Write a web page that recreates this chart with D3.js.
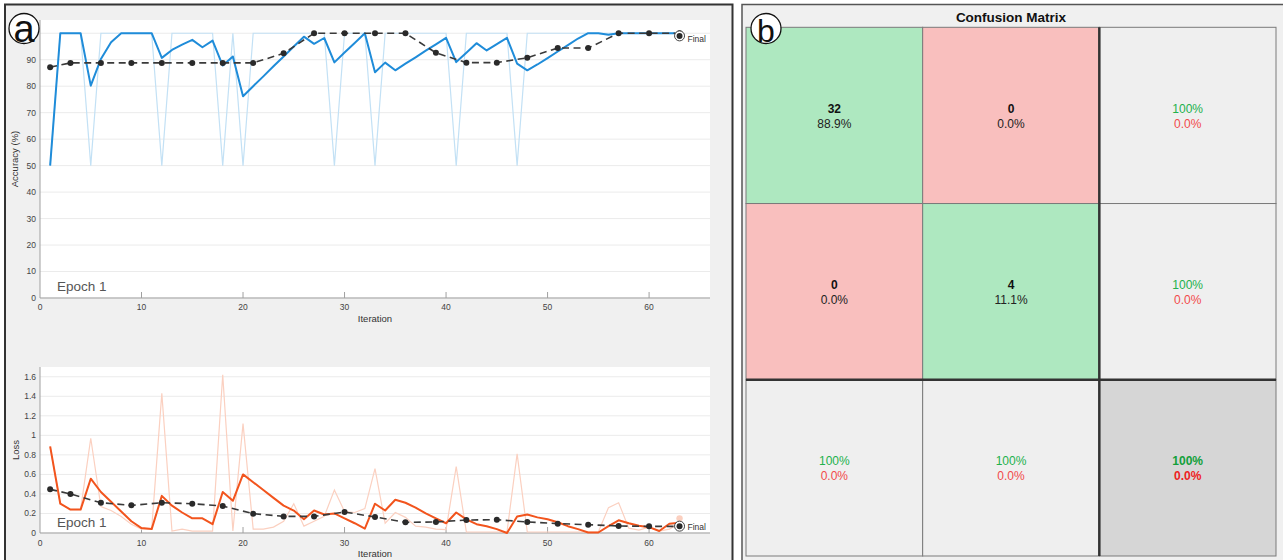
<!DOCTYPE html>
<html><head><meta charset="utf-8">
<script src="https://cdn.jsdelivr.net/npm/d3@7"></script>
<style>
body{margin:0;background:#fff}
svg{display:block}
text{font-family:"Liberation Sans",Arial,Helvetica,sans-serif}
</style></head>
<body><svg id="c" width="1283" height="560"></svg>
<script>
// ---------- data ----------
const iterations = d3.range(1, 64);
const accRaw = [50,100,100,100,50,100,100,100,100,100,100,50,100,100,100,100,100,50,100,50,
  100,100,100,100,100,100,100,100,50,100,100,100,50,100,100,100,100,100,100,100,
  50,100,100,100,100,100,50,100,100,100,100,100,100,100,100,100,100,100,100,100,100,100,100];
const accSmooth = [50,100,100,100,80.2,90.3,96.6,100,100,100,100,90.7,93.7,95.7,97.5,94.7,97.2,87.8,91.2,76.2,
  80,83.7,87.5,91.2,95,98.7,96,98.2,89,92.7,96.3,100,85.3,88.9,86,88.5,90.9,93.4,95.8,98.25,
  89.1,92.6,96.25,93.5,95.9,98.25,88.5,86,88.2,90.6,93.1,95.5,98,100,100,99.4,100,100,100,100,100,100,100];
const valIter = [1,3,6,9,12,15,18,21,24,27,30,33,36,39,42,45,48,51,54,57,60,63];
const accVal = [87.2,88.8,88.8,88.8,88.8,88.8,88.8,88.8,92.4,100,100,100,100,92.6,88.9,88.9,90.75,94.4,94.4,100,100,100];
const accFinal = 99;

const lossRaw = [0.88,0.30,0.24,0.24,0.97,0.27,0.23,0.17,0.09,0.04,0.04,1.43,0.02,0.04,0.02,0.02,0.02,1.62,0.02,1.12,
  0.04,0.04,0.06,0.12,0.30,0.07,0.12,0.17,0.44,0.22,0.21,0.25,0.66,0.10,0.21,0.16,0.07,0.06,0.04,0.035,
  0.68,0.01,0.01,0.01,0.01,0.01,0.81,0.01,0.01,0.01,0.01,0.01,0.01,0.01,0.01,0.26,0.31,0.05,0.03,0.06,0.02,0.04,0.10];
const lossSmooth = [0.887,0.30,0.24,0.24,0.556,0.42,0.32,0.22,0.12,0.05,0.04,0.38,0.28,0.21,0.15,0.15,0.09,0.42,0.33,0.60,
  0.52,0.44,0.36,0.28,0.23,0.14,0.23,0.19,0.20,0.15,0.10,0.045,0.30,0.23,0.34,0.31,0.26,0.20,0.15,0.10,
  0.21,0.14,0.09,0.07,0.04,0.0,0.17,0.19,0.16,0.14,0.11,0.07,0.04,0.005,0.005,0.07,0.13,0.10,0.075,0.06,0.02,0.095,0.105];
const lossVal = [0.447,0.40,0.31,0.283,0.31,0.30,0.276,0.198,0.17,0.17,0.215,0.164,0.109,0.113,0.133,0.136,0.113,0.096,0.085,0.072,0.068,0.068];
const lossFinal = 0.07;
const lossRawFinal = 0.15;

const iterTicks = [0,10,20,30,40,50,60];
const accTicks = [0,10,20,30,40,50,60,70,80,90];
const accGrid = [0,10,20,30,40,50,60,70,80,90,100];
const lossTicks = [0,0.2,0.4,0.6,0.8,1,1.2,1.4,1.6];

const cmClasses = ["1","2"];
const cmCounts = [[32,0],[0,4]];
const cmTitle = "Confusion Matrix";

// ---------- drawing ----------
const svg = d3.select("#c");
const FONT_C = "#444";

// panel frames
svg.append("rect").attr("x",5).attr("y",4.5).attr("width",727.5).attr("height",600)
  .attr("fill","#f0f0f0").attr("stroke","#333").attr("stroke-width",2);
svg.append("rect").attr("x",742).attr("y",4.5).attr("width",560).attr("height",600)
  .attr("fill","#f0f0f0").attr("stroke","#555").attr("stroke-width",1.5);

const x = d3.scaleLinear().domain([0,66]).range([40,710]);

function chart(cfg){
  const y = cfg.y;
  const g = svg.append("g");
  const [y0,y1] = y.range();
  g.append("rect").attr("x",x(0)).attr("y",y1).attr("width",x(66)-x(0)).attr("height",y0-y1).attr("fill","#fff");
  // grid
  g.selectAll(".grid").data(cfg.grid).join("line")
    .attr("x1",x(0)).attr("x2",x(66)).attr("y1",d=>y(d)).attr("y2",d=>y(d))
    .attr("stroke","#ebebeb").attr("stroke-width",1);
  // axes lines
  g.append("line").attr("x1",x(0)).attr("x2",x(0)).attr("y1",y0).attr("y2",y1).attr("stroke","#a0a0a0");
  g.append("line").attr("x1",x(0)).attr("x2",x(66)).attr("y1",y0).attr("y2",y0).attr("stroke","#a0a0a0").attr("stroke-width",1.2);
  g.selectAll(".xt").data(iterTicks.filter(d=>d>0)).join("line")
    .attr("x1",d=>x(d)).attr("x2",d=>x(d)).attr("y1",y0).attr("y2",y0-6).attr("stroke","#a0a0a0");
  g.selectAll(".xl").data(iterTicks).join("text")
    .attr("x",d=>x(d)).attr("y",y0+cfg.xlOff).attr("text-anchor","middle")
    .attr("font-size",8.5).attr("fill",FONT_C).text(d=>d);
  g.selectAll(".yl").data(cfg.ticks).join("text")
    .attr("x",36).attr("y",d=>y(d)).attr("dy","0.35em").attr("text-anchor","end")
    .attr("font-size",8.5).attr("fill",FONT_C).text(cfg.fmt);
  g.append("text").attr("x",375).attr("y",y0+cfg.titleOff).attr("text-anchor","middle")
    .attr("font-size",9.5).attr("fill","#333").text("Iteration");
  g.append("text").attr("transform",`translate(${cfg.ylabX},${(y0+y1)/2}) rotate(-90)`)
    .attr("text-anchor","middle").attr("font-size",9.5).attr("fill","#333").text(cfg.ylab);
  g.append("text").attr("x",57).attr("y",cfg.epochY).attr("font-size",13.5).attr("fill","#555").text("Epoch 1");

  const line = d3.line().x((d,i)=>x(iterations[i])).y(d=>y(d));
  g.append("path").datum(cfg.raw).attr("d",line).attr("fill","none")
    .attr("stroke",cfg.light).attr("stroke-width",1.2);
  g.append("path").datum(cfg.smooth).attr("d",line).attr("fill","none")
    .attr("stroke",cfg.dark).attr("stroke-width",2).attr("stroke-linejoin","round");
  if (cfg.rawFinal!=null){
    g.append("circle").attr("cx",x(63)).attr("cy",y(cfg.rawFinal)).attr("r",3.2).attr("fill",cfg.light);
  }
  const vline = d3.line().x((d,i)=>x(valIter[i])).y(d=>y(d));
  g.append("path").datum(cfg.val).attr("d",vline).attr("fill","none")
    .attr("stroke","#3a3a3a").attr("stroke-width",1.6).attr("stroke-dasharray","7,4.5");
  g.selectAll(".vm").data(cfg.val).join("circle")
    .attr("cx",(d,i)=>x(valIter[i])).attr("cy",d=>y(d)).attr("r",3).attr("fill","#2a2a2a");
  // final marker
  g.append("circle").attr("cx",x(63)).attr("cy",y(cfg.final)).attr("r",5)
    .attr("fill","#fff").attr("stroke","#444").attr("stroke-width",1);
  g.append("circle").attr("cx",x(63)).attr("cy",y(cfg.final)).attr("r",3).attr("fill","#2a2a2a");
  g.append("text").attr("x",x(63)+8).attr("y",y(cfg.final)+cfg.finalDy).attr("font-size",8.5)
    .attr("fill","#333").text("Final");
}

chart({
  y: d3.scaleLinear().domain([0,105]).range([298,20]),
  grid: accGrid, ticks: accTicks, fmt: d=>d,
  raw: accRaw, smooth: accSmooth, val: accVal, final: accFinal, finalDy: 6,
  light:"#c3e1f5", dark:"#1f8cd9",
  xlOff: 11.5, titleOff: 23.5, ylab: "Accuracy (%)", ylabX: 17.5, epochY: 290.5
});
chart({
  y: d3.scaleLinear().domain([0,1.7]).range([533,367]),
  grid: lossTicks, ticks: lossTicks, fmt: d=>d3.format("~g")(d),
  raw: lossRaw, smooth: lossSmooth, val: lossVal, final: lossFinal, finalDy: 4, rawFinal: lossRawFinal,
  light:"#fbd0c0", dark:"#f2541d",
  xlOff: 12.5, titleOff: 23.5, ylab: "Loss", ylabX: 19, epochY: 527
});

// ---------- confusion matrix ----------
const keys = cmClasses.concat(["S"]);
const cx = d3.scaleBand().domain(keys).range([746,1276]);
const cy = d3.scaleBand().domain(keys).range([27.3,556]);
const total = d3.sum(cmCounts.flat());
const fmtPct = v => v===100 ? "100%" : v.toFixed(1)+"%";
const cells = [];
cmClasses.forEach((r,ri)=>{
  cmClasses.forEach((c,ci)=>{
    const n = cmCounts[ri][ci];
    cells.push({r, c, type: ri===ci?"good":"bad", top: String(n), bot: fmtPct(n/total*100)});
  });
  const rowTot = d3.sum(cmCounts[ri]);
  const acc = rowTot ? cmCounts[ri][ri]/rowTot*100 : 0;
  cells.push({r, c:"S", type:"sum", top: fmtPct(acc), bot: fmtPct(100-acc)});
});
cmClasses.forEach((c,ci)=>{
  const colTot = d3.sum(cmCounts, row=>row[ci]);
  const acc = colTot ? cmCounts[ci][ci]/colTot*100 : 0;
  cells.push({r:"S", c, type:"sum", top: fmtPct(acc), bot: fmtPct(100-acc)});
});
const overall = d3.sum(cmClasses, (k,i)=>cmCounts[i][i])/total*100;
cells.push({r:"S", c:"S", type:"all", top: fmtPct(overall), bot: fmtPct(100-overall)});

const fills = {good:"#aee8c0", bad:"#f9bfbe", sum:"#efefef", all:"#d6d6d6"};
const cg = svg.append("g");
cg.selectAll("rect.cell").data(cells).join("rect")
  .attr("x",d=>cx(d.c)).attr("y",d=>cy(d.r)).attr("width",cx.bandwidth()).attr("height",cy.bandwidth())
  .attr("fill",d=>fills[d.type]).attr("stroke","#7a7a7a").attr("stroke-width",1);
cg.append("line").attr("x1",cx("S")).attr("x2",cx("S")).attr("y1",cy.range()[0]).attr("y2",cy.range()[1])
  .attr("stroke","#333").attr("stroke-width",2.5);
cg.append("line").attr("x1",cx.range()[0]).attr("x2",cx.range()[1]).attr("y1",cy("S")).attr("y2",cy("S"))
  .attr("stroke","#333").attr("stroke-width",2.5);
cg.selectAll("text.t").data(cells).join("text")
  .attr("x",d=>cx(d.c)+cx.bandwidth()/2).attr("y",d=>cy(d.r)+cy.bandwidth()/2-7).attr("dy","0.35em")
  .attr("text-anchor","middle").attr("font-size",12)
  .attr("font-weight",d=>(d.type==="good"||d.type==="bad"||d.type==="all")?"bold":"normal")
  .attr("fill",d=>d.type==="sum"?"#22b14c":(d.type==="all"?"#12a03a":"#111"))
  .text(d=>d.top);
cg.selectAll("text.b").data(cells).join("text")
  .attr("x",d=>cx(d.c)+cx.bandwidth()/2).attr("y",d=>cy(d.r)+cy.bandwidth()/2+8).attr("dy","0.35em")
  .attr("text-anchor","middle").attr("font-size",12)
  .attr("font-weight",d=>d.type==="all"?"bold":"normal")
  .attr("fill",d=>d.type==="sum"?"#f24a4a":(d.type==="all"?"#ee2222":"#222"))
  .text(d=>d.bot);
svg.append("text").attr("x",(cx.range()[0]+cx.range()[1])/2).attr("y",22).attr("text-anchor","middle")
  .attr("font-size",13.5).attr("font-weight","bold").attr("fill","#111").text(cmTitle);

// ---------- panel letters ----------
function letter(cxp, cyp, ch, fs, base){
  svg.append("circle").attr("cx",cxp).attr("cy",cyp).attr("r",15).attr("fill","#fff")
    .attr("stroke","#111").attr("stroke-width",1.3);
  svg.append("text").attr("x",cxp).attr("y",base).attr("text-anchor","middle")
    .attr("font-size",fs).attr("fill","#111").text(ch);
}
letter(24, 28.5, "a", 38, 41.5);
letter(766, 28.5, "b", 32, 41.5);
</script>
</body></html>
